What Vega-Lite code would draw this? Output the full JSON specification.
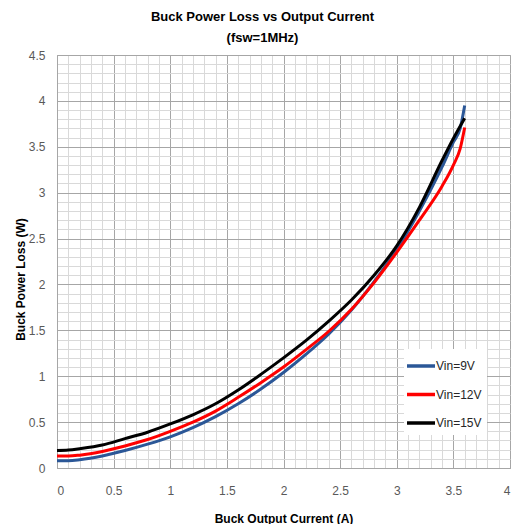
{
  "$schema": "https://vega.github.io/schema/vega-lite/v6.json",
  "width": 453,
  "height": 413,
  "autosize": "none",
  "padding": {"left": 57, "top": 55, "right": 11, "bottom": 56},
  "background": "white",
  "title": {
    "text": ["Buck Power Loss vs Output Current", "(fsw=1MHz)"],
    "font": "Liberation Sans",
    "fontSize": 13,
    "fontWeight": "bold",
    "color": "#000000",
    "anchor": "middle",
    "frame": "group",
    "dx": -21,
    "lineHeight": 21,
    "offset": 4
  },
  "config": {
    "view": {"stroke": "#a6a6a6"},
    "axis": {"labelFont": "Liberation Sans", "titleFont": "Liberation Sans"}
  },
  "data": {
    "values": [
      {"I": 0, "P": 0.08, "s": "Vin=9V"},
      {"I": 0.1, "P": 0.08, "s": "Vin=9V"},
      {"I": 0.2, "P": 0.09, "s": "Vin=9V"},
      {"I": 0.4, "P": 0.13, "s": "Vin=9V"},
      {"I": 0.6, "P": 0.19, "s": "Vin=9V"},
      {"I": 0.8, "P": 0.26, "s": "Vin=9V"},
      {"I": 1.0, "P": 0.34, "s": "Vin=9V"},
      {"I": 1.2, "P": 0.44, "s": "Vin=9V"},
      {"I": 1.4, "P": 0.56, "s": "Vin=9V"},
      {"I": 1.6, "P": 0.70, "s": "Vin=9V"},
      {"I": 1.8, "P": 0.86, "s": "Vin=9V"},
      {"I": 2.0, "P": 1.04, "s": "Vin=9V"},
      {"I": 2.2, "P": 1.24, "s": "Vin=9V"},
      {"I": 2.4, "P": 1.46, "s": "Vin=9V"},
      {"I": 2.6, "P": 1.72, "s": "Vin=9V"},
      {"I": 2.8, "P": 2.03, "s": "Vin=9V"},
      {"I": 3.0, "P": 2.38, "s": "Vin=9V"},
      {"I": 3.2, "P": 2.80, "s": "Vin=9V"},
      {"I": 3.4, "P": 3.28, "s": "Vin=9V"},
      {"I": 3.5, "P": 3.55, "s": "Vin=9V"},
      {"I": 3.56, "P": 3.70, "s": "Vin=9V"},
      {"I": 3.6, "P": 3.95, "s": "Vin=9V"},
      {"I": 0, "P": 0.13, "s": "Vin=12V"},
      {"I": 0.1, "P": 0.13, "s": "Vin=12V"},
      {"I": 0.2, "P": 0.14, "s": "Vin=12V"},
      {"I": 0.4, "P": 0.18, "s": "Vin=12V"},
      {"I": 0.6, "P": 0.24, "s": "Vin=12V"},
      {"I": 0.8, "P": 0.31, "s": "Vin=12V"},
      {"I": 1.0, "P": 0.40, "s": "Vin=12V"},
      {"I": 1.2, "P": 0.50, "s": "Vin=12V"},
      {"I": 1.4, "P": 0.62, "s": "Vin=12V"},
      {"I": 1.6, "P": 0.77, "s": "Vin=12V"},
      {"I": 1.8, "P": 0.93, "s": "Vin=12V"},
      {"I": 2.0, "P": 1.10, "s": "Vin=12V"},
      {"I": 2.2, "P": 1.29, "s": "Vin=12V"},
      {"I": 2.4, "P": 1.49, "s": "Vin=12V"},
      {"I": 2.6, "P": 1.73, "s": "Vin=12V"},
      {"I": 2.8, "P": 2.02, "s": "Vin=12V"},
      {"I": 3.0, "P": 2.35, "s": "Vin=12V"},
      {"I": 3.2, "P": 2.70, "s": "Vin=12V"},
      {"I": 3.4, "P": 3.07, "s": "Vin=12V"},
      {"I": 3.5, "P": 3.30, "s": "Vin=12V"},
      {"I": 3.56, "P": 3.48, "s": "Vin=12V"},
      {"I": 3.6, "P": 3.71, "s": "Vin=12V"},
      {"I": 0, "P": 0.19, "s": "Vin=15V"},
      {"I": 0.1, "P": 0.195, "s": "Vin=15V"},
      {"I": 0.2, "P": 0.21, "s": "Vin=15V"},
      {"I": 0.4, "P": 0.25, "s": "Vin=15V"},
      {"I": 0.6, "P": 0.32, "s": "Vin=15V"},
      {"I": 0.8, "P": 0.39, "s": "Vin=15V"},
      {"I": 1.0, "P": 0.48, "s": "Vin=15V"},
      {"I": 1.2, "P": 0.58, "s": "Vin=15V"},
      {"I": 1.4, "P": 0.70, "s": "Vin=15V"},
      {"I": 1.6, "P": 0.85, "s": "Vin=15V"},
      {"I": 1.8, "P": 1.02, "s": "Vin=15V"},
      {"I": 2.0, "P": 1.20, "s": "Vin=15V"},
      {"I": 2.2, "P": 1.39, "s": "Vin=15V"},
      {"I": 2.4, "P": 1.60, "s": "Vin=15V"},
      {"I": 2.6, "P": 1.83, "s": "Vin=15V"},
      {"I": 2.8, "P": 2.10, "s": "Vin=15V"},
      {"I": 3.0, "P": 2.42, "s": "Vin=15V"},
      {"I": 3.2, "P": 2.84, "s": "Vin=15V"},
      {"I": 3.4, "P": 3.35, "s": "Vin=15V"},
      {"I": 3.5, "P": 3.59, "s": "Vin=15V"},
      {"I": 3.6, "P": 3.81, "s": "Vin=15V"}
    ]
  },
  "resolve": {"axis": {"x": "independent", "y": "independent"}},
  "layer": [
    {
      "mark": {"type": "point", "opacity": 0},
      "encoding": {
        "x": {
          "field": "I", "type": "quantitative",
          "scale": {"domain": [0, 4], "nice": false},
          "axis": {
            "orient": "top", "title": null, "labels": false, "ticks": false, "domain": false,
            "grid": true, "gridColor": "#d9d9d9", "gridWidth": 1,
            "values": [0.1,0.2,0.3,0.4,0.6,0.7,0.8,0.9,1.1,1.2,1.3,1.4,1.6,1.7,1.8,1.9,2.1,2.2,2.3,2.4,2.6,2.7,2.8,2.9,3.1,3.2,3.3,3.4,3.6,3.7,3.8,3.9]
          }
        },
        "y": {
          "field": "P", "type": "quantitative",
          "scale": {"domain": [0, 4.5], "nice": false},
          "axis": {
            "orient": "right", "title": null, "labels": false, "ticks": false, "domain": false,
            "grid": true, "gridColor": "#d9d9d9", "gridWidth": 1,
            "values": [0.1,0.2,0.3,0.4,0.6,0.7,0.8,0.9,1.1,1.2,1.3,1.4,1.6,1.7,1.8,1.9,2.1,2.2,2.3,2.4,2.6,2.7,2.8,2.9,3.1,3.2,3.3,3.4,3.6,3.7,3.8,3.9,4.1,4.2,4.3,4.4]
          }
        }
      }
    },
    {
      "mark": {"type": "line", "interpolate": "monotone", "strokeWidth": 3},
      "encoding": {
        "x": {
          "field": "I", "type": "quantitative",
          "scale": {"domain": [0, 4], "nice": false},
          "axis": {
            "orient": "bottom", "title": "Buck Output Current (A)",
            "values": [0,0.5,1,1.5,2,2.5,3,3.5,4],
            "labelExpr": "datum.value",
            "grid": true, "gridColor": "#a6a6a6", "domainColor": "#a6a6a6",
            "ticks": false, "labelPadding": 17, "labelFontSize": 12, "labelColor": "#595959",
            "titleFontSize": 12, "titleFontWeight": "bold", "titleColor": "#000000",
            "titleBaseline": "middle", "titleY": 50
          }
        },
        "y": {
          "field": "P", "type": "quantitative",
          "scale": {"domain": [0, 4.5], "nice": false},
          "axis": {
            "orient": "left", "title": "Buck Power Loss (W)",
            "values": [0,0.5,1,1.5,2,2.5,3,3.5,4,4.5],
            "labelExpr": "datum.value",
            "grid": true, "gridColor": "#a6a6a6", "domainColor": "#a6a6a6",
            "ticks": false, "labelPadding": 12, "labelFontSize": 12, "labelColor": "#595959",
            "titleFontSize": 12, "titleFontWeight": "bold", "titleColor": "#000000",
            "titleBaseline": "middle", "titleAlign": "center", "titleAngle": -90,
            "titleX": -37, "titleY": 224
          }
        },
        "color": {
          "field": "s", "type": "nominal",
          "scale": {"domain": ["Vin=9V", "Vin=12V", "Vin=15V"], "range": ["#2b5797", "#ff0000", "#000000"]},
          "legend": {
            "title": null, "orient": "none", "legendX": 347, "legendY": 294,
            "fillColor": "white", "padding": 5,
            "symbolType": "M-1.4,0H1.4", "symbolSize": 400, "symbolStrokeWidth": 3.5,
            "rowPadding": 9.5, "labelOffset": 3,
            "labelFont": "Liberation Sans", "labelFontSize": 12, "labelColor": "#262626"
          }
        }
      }
    }
  ]
}
